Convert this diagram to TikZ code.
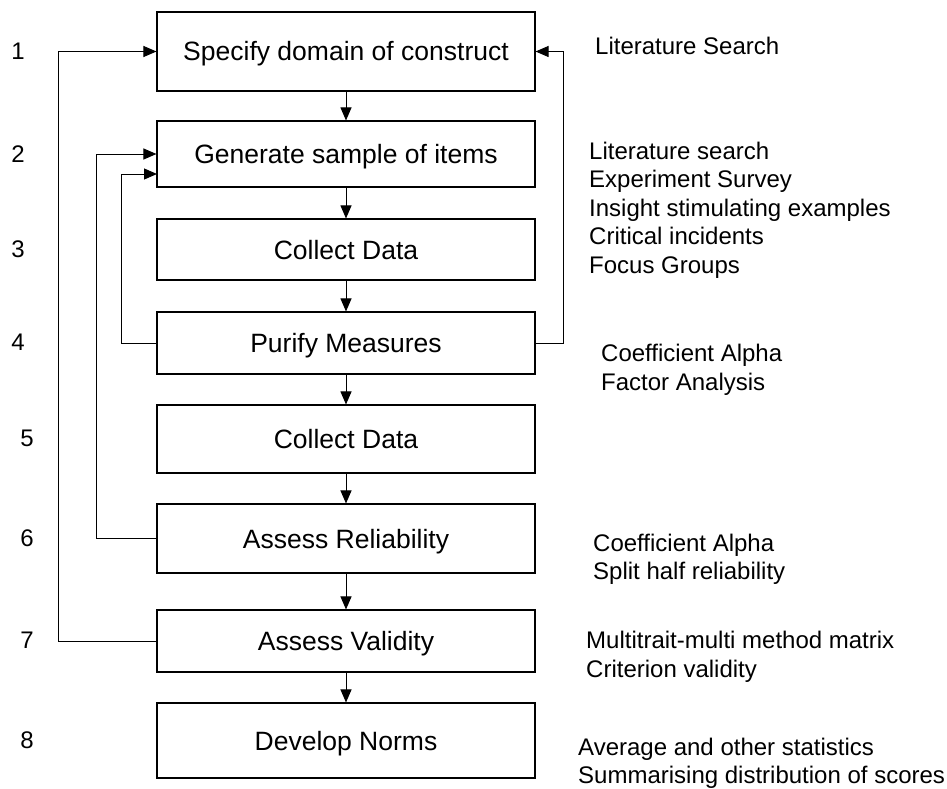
\documentclass[tikz,border=0pt]{standalone}
\usepackage{fontspec}
\setmainfont{Liberation Sans}
\usetikzlibrary{arrows.meta}
\begin{document}
\begin{tikzpicture}[x=1pt,y=-1pt,
  stepbox/.style={draw=black,line width=1.1pt,minimum width=378pt,inner sep=0pt,
    text height=19pt,text depth=0pt,
    font=\fontsize{26.5}{32}\selectfont},
  numlabel/.style={inner sep=0pt,font=\fontsize{24}{28}\selectfont},
  note/.style={inner sep=0pt,anchor=west,align=left,font=\fontsize{24}{28.5}\selectfont},
  conn/.style={line width=1pt,-{Triangle[length=13pt,width=11pt]}}
]
\useasboundingbox (0,0) rectangle (947,789);
% boxes
\node[stepbox,minimum height=79pt] (b1) at (346,51.5) {Specify domain of construct};
\node[stepbox,minimum height=66pt] (b2) at (346,154) {Generate sample of items};
\node[stepbox,minimum height=61pt] (b3) at (346,249.5) {Collect Data};
\node[stepbox,minimum height=62pt] (b4) at (346,343) {Purify Measures};
\node[stepbox,minimum height=68pt] (b5) at (346,439) {Collect Data};
\node[stepbox,minimum height=69pt] (b6) at (346,538.5) {Assess Reliability};
\node[stepbox,minimum height=62pt] (b7) at (346,641) {Assess Validity};
\node[stepbox,minimum height=75pt] (b8) at (346,740.5) {Develop Norms};
% numbers
\node[numlabel] (n1) at (18,51) {1};
\node[numlabel] (n2) at (18,154) {2};
\node[numlabel] (n3) at (18,249) {3};
\node[numlabel] (n4) at (18,342) {4};
\node[numlabel] (n5) at (27,438) {5};
\node[numlabel] (n6) at (27,538) {6};
\node[numlabel] (n7) at (27,640) {7};
\node[numlabel] (n8) at (27,740) {8};
% notes
\node[note] (t1) at (595,46) {Literature Search};
\node[note] (t2) at (589,210) {Literature search\\Experiment Survey\\Insight stimulating examples\\Critical incidents\\Focus Groups};
\node[note] (t4) at (601,370) {Coefficient Alpha\\Factor Analysis};
\node[note] (t6) at (593,559.5) {Coefficient Alpha\\Split half reliability};
\node[note] (t7) at (586,657) {Multitrait-multi method matrix\\Criterion validity};
\node[note] (t8) at (578,763.5) {Average and other statistics\\Summarising distribution of scores};
% down arrows
\draw[conn] (b1) -- (b2);
\draw[conn] (b2) -- (b3);
\draw[conn] (b3) -- (b4);
\draw[conn] (b4) -- (b5);
\draw[conn] (b5) -- (b6);
\draw[conn] (b6) -- (b7);
\draw[conn] (b7) -- (b8);
% feedback loops
\coordinate (b2low) at (157,174);
\draw[conn] (b7.west) -- ++(-98,0) |- (b1.west);
\draw[conn] (b6.west) -- ++(-60,0) |- (b2.west);
\draw[conn] (b4.west) -- ++(-35,0) |- (b2low);
\draw[conn] (b4.east) -- ++(28,0) |- (b1.east);
\end{tikzpicture}
\end{document}
